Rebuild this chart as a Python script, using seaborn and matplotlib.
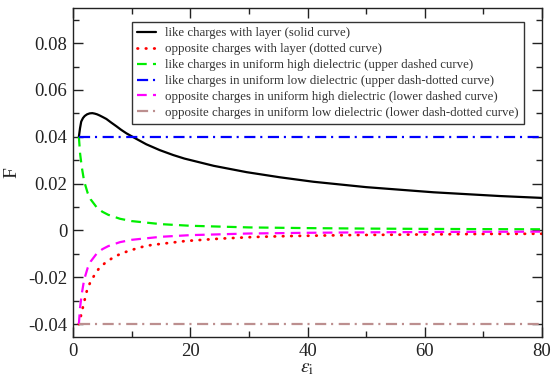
import matplotlib
matplotlib.use("Agg")
import matplotlib.pyplot as plt
import seaborn as sns
import pandas as pd
from matplotlib.ticker import MultipleLocator, FixedLocator

# ---- data ----
eps_solid = [1, 1.2, 1.4, 1.7, 2, 2.4, 2.85, 3.3, 3.7, 4.1, 4.55, 5.1, 5.7, 6.5, 7.4, 8.2,
             9.1, 10.3, 12.5, 14.8, 17.1, 19, 24, 29.6, 35.3, 41, 50, 61.5, 72.8, 80]
F_solid = [0.040, 0.0437, 0.0465, 0.0480, 0.0489, 0.0496, 0.0500, 0.0501, 0.0499,
           0.0496, 0.0491, 0.0484, 0.0476, 0.0461, 0.0445, 0.0430, 0.0415, 0.0398,
           0.0368, 0.0343, 0.0322, 0.0307, 0.0276, 0.0249, 0.0227, 0.0208, 0.0185,
           0.0163, 0.0147, 0.0139]

eps_dotted = [1, 1.3, 1.7, 2.4, 2.9, 3.6, 4.4, 5.5, 6.7, 8, 9.3, 10.7, 12.1, 13.4,
              19.2, 25, 30.8, 36.6, 46.7, 60, 70, 80]
F_dotted = [-0.040, -0.037, -0.0326, -0.0254, -0.0224, -0.0193, -0.0163, -0.0138,
            -0.0118, -0.0101, -0.0089, -0.0078, -0.0068, -0.0062, -0.0045, -0.0035,
            -0.0028, -0.0024, -0.0020, -0.0017, -0.0015, -0.0014]

eps_uniform = [1, 1.2, 1.5, 1.9, 2.5, 3, 4, 5, 6, 8, 10, 15, 20, 30, 40, 50, 60, 70, 80]
F_high_like = [0.040, 0.033, 0.027, 0.021, 0.016, 0.0133, 0.010, 0.008, 0.0067, 0.005,
               0.004, 0.0027, 0.002, 0.0013, 0.001, 0.0008, 0.00067, 0.00057, 0.0005]
F_high_opp = [-0.040, -0.033, -0.027, -0.021, -0.016, -0.0133, -0.010, -0.008, -0.0067,
              -0.005, -0.004, -0.0027, -0.002, -0.0013, -0.001, -0.0008, -0.00067,
              -0.00057, -0.0005]

eps_low = [1, 80]
F_low_like = [0.04, 0.04]
F_low_opp = [-0.04, -0.04]

labels = [
    "like charges with layer (solid curve)",
    "opposite charges with layer (dotted curve)",
    "like charges in uniform high dielectric (upper dashed curve)",
    "like charges in uniform low dielectric (upper dash-dotted curve)",
    "opposite charges in uniform high dielectric (lower dashed curve)",
    "opposite charges in uniform low dielectric (lower dash-dotted curve)",
]
x_ticks = [0, 20, 40, 60, 80]
y_ticks = [-0.04, -0.02, 0, 0.02, 0.04, 0.06, 0.08]
y_tick_labels = ["-0.04", "-0.02", "0", "0.02", "0.04", "0.06", "0.08"]

series = [
    (eps_solid, F_solid, "black", None),
    (eps_dotted, F_dotted, "#ff0000", (0, (0.4, 5.6))),
    (eps_uniform, F_high_like, "#00ee00", (0, (7, 4.5))),
    (eps_low, F_low_like, "#0000ff", (0, (8, 3.5, 1.5, 4))),
    (eps_uniform, F_high_opp, "#ff00ff", (0, (7, 4.5))),
    (eps_low, F_low_opp, "#bc8f8f", (0, (8, 3.5, 1.5, 4))),
]

sns.set_theme(style="ticks")
plt.rcParams["font.family"] = ["Liberation Serif", "DejaVu Serif"]
plt.rcParams["mathtext.fontset"] = "stix"
plt.rcParams["lines.scale_dashes"] = False

fig = plt.figure(figsize=(5.51, 3.79), dpi=100)
ax = fig.add_axes([0.1325, 0.1108, 0.8512, 0.8681])

for (xs, ys, col, ls), lab in zip(series, labels):
    df = pd.DataFrame({"eps": xs, "F": ys})
    sns.lineplot(data=df, x="eps", y="F", ax=ax, color=col, label=lab,
                 linewidth=1.6, sort=False)
    line = ax.get_lines()[-1]
    if ls is not None:
        line.set_linestyle(ls)
        if col == "#ff0000":
            line.set_dash_capstyle("round")
            line.set_linewidth(2.0)

ax.set_xlim(0, 80)
ax.set_ylim(-0.0455, 0.095)
ax.xaxis.set_major_locator(FixedLocator(x_ticks))
ax.xaxis.set_minor_locator(MultipleLocator(10))
ax.yaxis.set_major_locator(FixedLocator(y_ticks))
ax.set_yticklabels(y_tick_labels)
ax.yaxis.set_minor_locator(MultipleLocator(0.01))

ax.tick_params(which="both", direction="in", top=True, right=True,
               colors="#222222", labelcolor="#222222")
ax.tick_params(which="major", length=7, width=1, labelsize=13.5, pad=4)
ax.tick_params(which="minor", length=4, width=1)
for sp in ax.spines.values():
    sp.set_linewidth(1.0)
    sp.set_color("#222222")

ax.set_xlabel(r"$\varepsilon_{\rm i}$", fontsize=14, color="#222222", labelpad=0)
ax.set_ylabel("F", fontsize=14, color="#222222", labelpad=6)

leg = ax.legend(loc="upper left", bbox_to_anchor=(0.125, 0.957), fontsize=9.3,
                frameon=True, fancybox=False, framealpha=1, edgecolor="#333333",
                handlelength=1.5, handletextpad=0.7, labelspacing=0.3,
                borderpad=0.4, borderaxespad=0)
leg.get_frame().set_linewidth(1.0)
for t in leg.get_texts():
    t.set_color("#333333")

fig.savefig("out.png", dpi=100)
